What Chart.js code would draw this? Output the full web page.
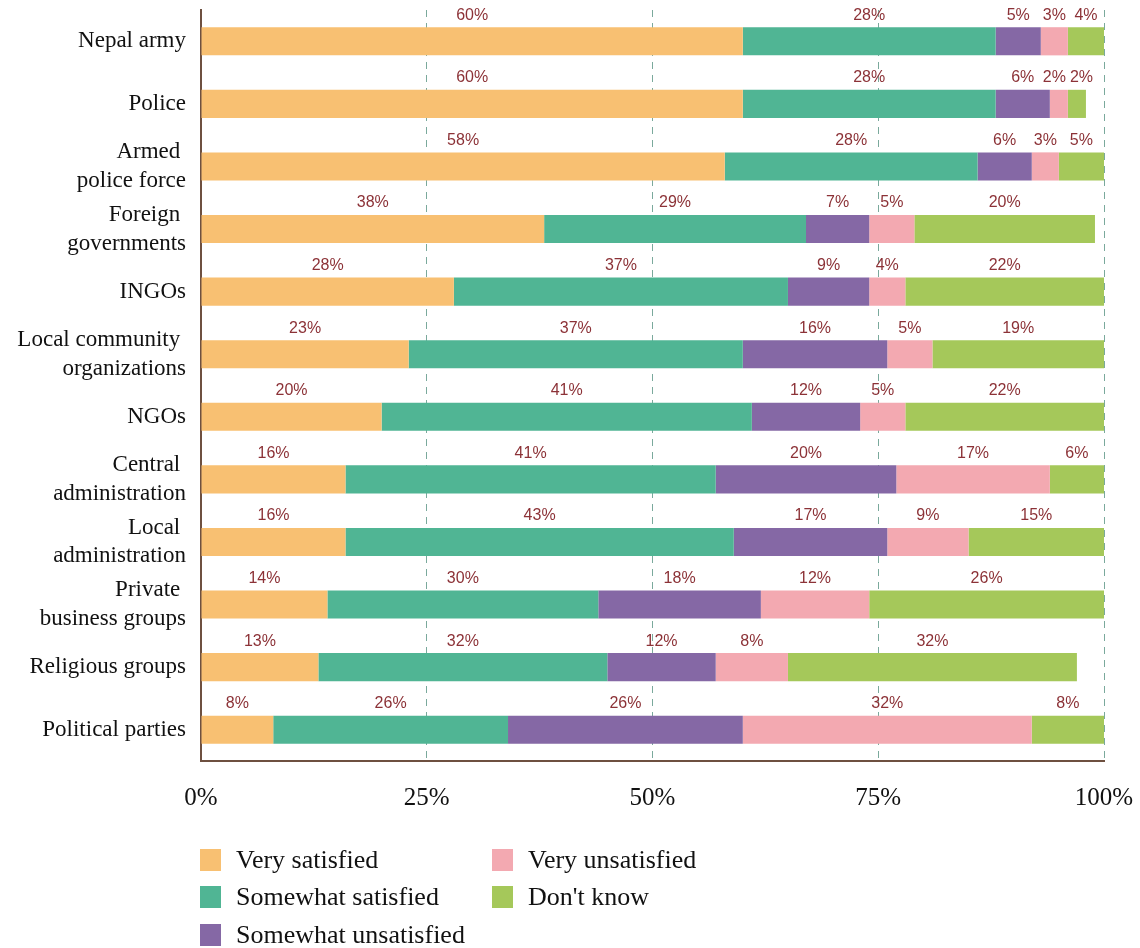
<!DOCTYPE html>
<html>
<head>
<meta charset="utf-8">
<script src="https://cdn.jsdelivr.net/npm/chart.js@4.4.0/dist/chart.umd.min.js"></script>
<style>
  body { margin: 0; background: #fff; }
  #wrap { position: relative; width: 1140px; height: 948px; }
  .leg { position: absolute; font-family: "Liberation Serif", "Times New Roman", serif; font-size: 26px; color: #111; white-space: nowrap; }
  .leg span.sw { position: absolute; left: 0; top: 50%; width: 21px; height: 22px; margin-top: -11px; }
  .leg span.tx { position: absolute; left: 36px; top: 50%; transform: translateY(-50%); }
</style>
</head>
<body>
<div id="wrap">
  <canvas id="chart" width="1140" height="948"></canvas>
  <div id="legend"></div>
</div>
<script>
// categories, top to bottom
const categories = [
    ["Nepal army"],
    ["Police"],
    ["Armed ", "police force"],
    ["Foreign ", "governments"],
    ["INGOs"],
    ["Local community ", "organizations"],
    ["NGOs"],
    ["Central ", "administration"],
    ["Local ", "administration"],
    ["Private ", "business groups"],
    ["Religious groups"],
    ["Political parties"]
];

const seriesNames = ["Very satisfied", "Somewhat satisfied", "Somewhat unsatisfied", "Very unsatisfied", "Don't know"];
const seriesColors = ["#f8c072", "#50b594", "#8568a5", "#f3a9b1", "#a5c85a"];

const verySatisfied       = [60, 60, 58, 38, 28, 23, 20, 16, 16, 14, 13, 8];
const somewhatSatisfied   = [28, 28, 28, 29, 37, 37, 41, 41, 43, 30, 32, 26];
const somewhatUnsatisfied = [5, 6, 6, 7, 9, 16, 12, 20, 17, 18, 12, 26];
const veryUnsatisfied     = [3, 2, 3, 5, 4, 5, 5, 17, 9, 12, 8, 32];
const dontKnow            = [4, 2, 5, 20, 22, 19, 22, 6, 15, 26, 32, 8];

const xTicks = [0, 25, 50, 75, 100];

const seriesValues = [verySatisfied, somewhatSatisfied, somewhatUnsatisfied, veryUnsatisfied, dontKnow];

// value labels above each segment, nudged apart when they would collide
const valueLabels = {
    id: "valueLabels",
    afterDatasetsDraw(chart) {
        const ctx = chart.ctx;
        ctx.save();
        ctx.font = "16px 'Liberation Sans', Arial, sans-serif";
        ctx.fillStyle = "#8c3237";
        ctx.textAlign = "center";
        ctx.textBaseline = "middle";
        const nDs = chart.data.datasets.length;
        categories.forEach((_, j) => {
            const items = [];
            for (let i = 0; i < nDs; i++) {
                const bar = chart.getDatasetMeta(i).data[j];
                const text = chart.data.datasets[i].data[j] + "%";
                items.push({ text, x: (bar.x + bar.base) / 2, y: bar.y - 26, w: ctx.measureText(text).width });
            }
            for (let k = 1; k < items.length; k++) {
                const a = items[k - 1], b = items[k];
                const need = (a.w + b.w) / 2 + 4;
                const gap = b.x - a.x;
                if (gap < need) {
                    const d = (need - gap) / 2;
                    a.x -= d;
                    b.x += d;
                }
            }
            items.forEach(it => ctx.fillText(it.text, it.x, it.y));
        });
        ctx.restore();
    }
};

new Chart(document.getElementById("chart"), {
    type: "bar",
    data: {
        labels: categories,
        datasets: seriesNames.map((name, i) => ({
            label: name,
            data: seriesValues[i],
            backgroundColor: seriesColors[i],
            borderWidth: 0,
            barPercentage: 0.45,
            categoryPercentage: 1.0,
        })),
    },
    options: {
        indexAxis: "y",
        responsive: false,
        animation: false,
        layout: { padding: { top: 10, right: 36, bottom: 137, left: 0 } },
        scales: {
            x: {
                stacked: true,
                min: 0,
                max: 100,
                afterBuildTicks: (scale) => { scale.ticks = xTicks.map(v => ({ value: v })); },
                ticks: {
                    callback: (v) => v + "%",
                    color: "#111",
                    padding: 22,
                    font: { family: "'Liberation Serif', 'Times New Roman', serif", size: 25 },
                },
                grid: {
                    drawTicks: false,
                    color: (c) => c.tick && c.tick.value === 0 ? "rgba(0,0,0,0)" : "#7aa99c",
                    lineWidth: 1,
                },
                border: { display: true, color: "#6e5040", width: 2, dash: [7, 6] },
                afterFit: (s) => { s.height = 50; s.paddingLeft = 0; s.paddingRight = 0; },
            },
            y: {
                stacked: true,
                ticks: {
                    autoSkip: false,
                    color: "#111",
                    padding: 7,
                    font: { family: "'Liberation Serif', 'Times New Roman', serif", size: 23, lineHeight: 1.26 },
                },
                grid: { display: false },
                border: { display: true, color: "#6e5040", width: 2 },
                afterFit: (s) => { s.width = 201; s.paddingTop = 0; s.paddingBottom = 0; },
            },
        },
        plugins: {
            legend: { display: false },
            tooltip: { enabled: false },
        },
    },
    plugins: [valueLabels],
});

// legend in two columns, column-major order
const legendEl = document.getElementById("legend");
const legCols = [200, 492];
const legRows = [860, 897, 935];
seriesNames.forEach((name, i) => {
    const col = i < 3 ? 0 : 1;
    const row = i < 3 ? i : i - 3;
    const d = document.createElement("div");
    d.className = "leg";
    d.style.left = legCols[col] + "px";
    d.style.top = (legRows[row] - 20) + "px";
    d.style.height = "40px";
    d.style.width = "300px";
    d.innerHTML = '<span class="sw" style="background:' + seriesColors[i] + '"></span><span class="tx"></span>';
    d.querySelector(".tx").textContent = name;
    legendEl.appendChild(d);
});
</script>
</body>
</html>
